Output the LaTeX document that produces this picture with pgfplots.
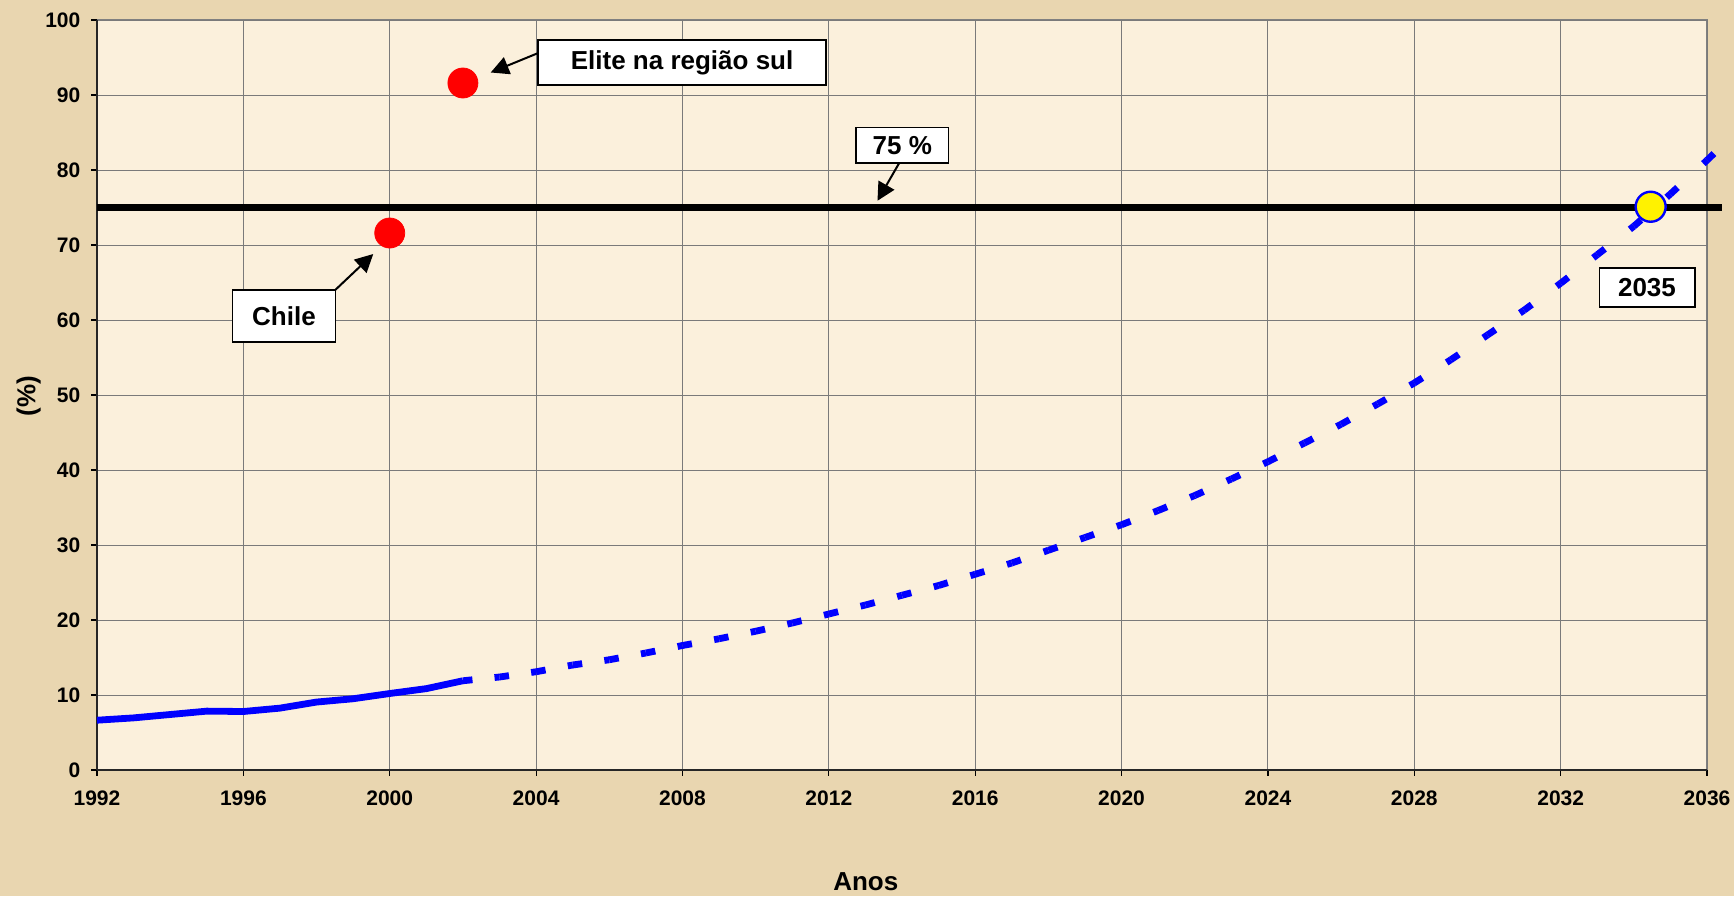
\documentclass[border=0pt]{standalone}
\usepackage{fontspec}
\setmainfont{Liberation Sans}
\usepackage{pgfplots}
\pgfplotsset{compat=1.18}
\usetikzlibrary{arrows.meta}
\definecolor{pagebg}{HTML}{E9D6B0}
\definecolor{plotbg}{HTML}{FBF0DC}
\definecolor{gridc}{HTML}{7A7A7A}
\begin{document}
\begin{tikzpicture}
\path[use as bounding box, fill=pagebg] (-48.5pt,-63pt) rectangle (818.5pt,385pt);
\begin{axis}[
  at={(0,0)}, anchor=south west,
  width=805pt, height=375pt, scale only axis,
  xmin=1992, xmax=2036, ymin=0, ymax=100,
  xtick={1992,1996,...,2036}, ytick={0,10,...,100},
  axis lines*=left,
  axis line style={line width=0.8pt, color=black!85},
  axis background/.style={fill=plotbg, draw=gray, line width=0.8pt},
  grid=major, major grid style={gridc, line width=0.5pt},
  tick align=outside, major tick length=2.8pt, tick style={black, line width=0.6pt},
  ticklabel style={font=\bfseries\fontsize{10.5}{12}\selectfont},
  /pgf/number format/assume math mode=true,
  x tick label style={/pgf/number format/set thousands separator={}, yshift=-4pt},
  y tick label style={xshift=-2pt},
  xlabel={Anos}, ylabel={(\%)},
  every axis x label/.style={at={(axis description cs:0.4775,-0.1493)}, anchor=center, font=\bfseries\fontsize{13}{15}\selectfont},
  every axis y label/.style={at={(axis description cs:-0.0424,0.4987)}, anchor=center, rotate=90, font=\bfseries\fontsize{13}{15}\selectfont},
  clip=false,
  unbounded coords=jump,
]
% 75 % line
\addplot[black, line width=3.6pt, line cap=butt] coordinates {(1992,75) (2036.4,75)};
% observed series
\addplot[blue, line width=3.4pt, line join=round, line cap=butt] coordinates {
(1992,6.64) (1993,6.95) (1994,7.4) (1995,7.85) (1996,7.8) (1997,8.25)
(1998,9.06) (1999,9.5) (2000,10.2) (2001,10.85) (2002,11.9)};
% projection, forward pieces
\addplot[blue, line width=3.4pt, line cap=butt, dash pattern=on 4.8pt off 60pt] coordinates {
(2002,11.9)(2003,12.4) (2003,nan)
(2003,12.4)(2004,13.1) (2004,nan)
(2004,13.1)(2005,14.0) (2005,nan)
(2005,14.0)(2006,14.7) (2006,nan)
(2006,14.7)(2007,15.6) (2007,nan)
(2007,15.6)(2008,16.6) (2008,nan)
(2008,16.6)(2009,17.5) (2009,nan)
(2009,17.5)(2010,18.5) (2010,nan)
(2010,18.5)(2011,19.6) (2011,nan)
(2011,19.6)(2012,20.8) (2012,nan)
(2012,20.8)(2013,22.0) (2013,nan)
(2013,22.0)(2014,23.3) (2014,nan)
(2014,23.3)(2015,24.6) (2015,nan)
(2015,24.6)(2016,26.1) (2016,nan)
(2016,26.1)(2017,27.6) (2017,nan)
(2017,27.6)(2018,29.3) (2018,nan)
(2018,29.3)(2019,31.0) (2019,nan)
(2019,31.0)(2020,32.7) (2020,nan)
(2020,32.7)(2021,34.6) (2021,nan)
(2021,34.6)(2022,36.6) (2022,nan)
(2022,36.6)(2023,38.8) (2023,nan)
(2023,38.8)(2024,41.1) (2024,nan)
(2024,41.1)(2025,43.6) (2025,nan)
(2025,43.6)(2026,46.1) (2026,nan)
(2026,46.1)(2027,48.8) (2027,nan)
(2027,48.8)(2028,51.6) (2028,nan)
(2028,51.6)(2029,54.7) (2029,nan)
(2029,54.7)(2030,58.0) (2030,nan)
(2030,58.0)(2031,61.3) (2031,nan)
(2031,61.3)(2032,64.9) (2032,nan)
(2032,64.9)(2033,68.7) (2033,nan)
(2033,68.7)(2034,72.5) (2034,nan)
(2034,72.5)(2035,76.8) (2035,nan)
(2035,76.8)(2036,81.3) (2036,nan)
(2036,81.3)(2037,86.0)};
% projection, backward pieces
\addplot[blue, line width=3.4pt, line cap=butt, dash pattern=on 2.5pt off 60pt] coordinates {
(2003,12.4)(2002,11.9) (2003,nan)
(2004,13.1)(2003,12.4) (2004,nan)
(2005,14.0)(2004,13.1) (2005,nan)
(2006,14.7)(2005,14.0) (2006,nan)
(2007,15.6)(2006,14.7) (2007,nan)
(2008,16.6)(2007,15.6) (2008,nan)
(2009,17.5)(2008,16.6) (2009,nan)
(2010,18.5)(2009,17.5) (2010,nan)
(2011,19.6)(2010,18.5) (2011,nan)
(2012,20.8)(2011,19.6) (2012,nan)
(2013,22.0)(2012,20.8) (2013,nan)
(2014,23.3)(2013,22.0) (2014,nan)
(2015,24.6)(2014,23.3) (2015,nan)
(2016,26.1)(2015,24.6) (2016,nan)
(2017,27.6)(2016,26.1) (2017,nan)
(2018,29.3)(2017,27.6) (2018,nan)
(2019,31.0)(2018,29.3) (2019,nan)
(2020,32.7)(2019,31.0) (2020,nan)
(2021,34.6)(2020,32.7) (2021,nan)
(2022,36.6)(2021,34.6) (2022,nan)
(2023,38.8)(2022,36.6) (2023,nan)
(2024,41.1)(2023,38.8) (2024,nan)
(2025,43.6)(2024,41.1) (2025,nan)
(2026,46.1)(2025,43.6) (2026,nan)
(2027,48.8)(2026,46.1) (2027,nan)
(2028,51.6)(2027,48.8) (2028,nan)
(2029,54.7)(2028,51.6) (2029,nan)
(2030,58.0)(2029,54.7) (2030,nan)
(2031,61.3)(2030,58.0) (2031,nan)
(2032,64.9)(2031,61.3) (2032,nan)
(2033,68.7)(2032,64.9) (2033,nan)
(2034,72.5)(2033,68.7) (2034,nan)
(2035,76.8)(2034,72.5) (2035,nan)
(2036,81.3)(2035,76.8)};
% reference points
\addplot[only marks, mark=*, mark size=7.5pt, mark options={draw=red, fill=red}] coordinates {(2000,71.6) (2002,91.6)};
\addplot[only marks, mark=*, mark size=7.5pt, mark options={fill=yellow, draw=blue, line width=1.2pt}] coordinates {(2034.46,75.1)};
% annotations
\tikzset{lab/.style={draw=black, line width=0.8pt, fill=white, inner sep=0pt, font=\bfseries\fontsize{13}{15}\selectfont},
  arr/.style={line width=1pt, -{Triangle[length=9pt,width=9pt]}}}
\node[lab, minimum width=143.8pt, minimum height=22.5pt] at (axis cs:2007.99,94.33) {Elite na região sul};
\draw[arr] (axis cs:2004.06,95.6) -- (axis cs:2002.76,93.0);
\node[lab, minimum width=46.3pt, minimum height=17.8pt] at (axis cs:2014.01,83.27) {75 \%};
\draw[arr] (axis cs:2013.92,80.9) -- (axis cs:2013.33,75.9);
\node[lab, minimum width=51.5pt, minimum height=26pt] at (axis cs:1997.11,60.5) {Chile};
\draw[arr] (axis cs:1998.51,64.0) -- (axis cs:1999.55,68.8);
\node[lab, minimum width=47.7pt, minimum height=19.5pt] at (axis cs:2034.36,64.37) {2035};
\end{axis}
\end{tikzpicture}
\end{document}
